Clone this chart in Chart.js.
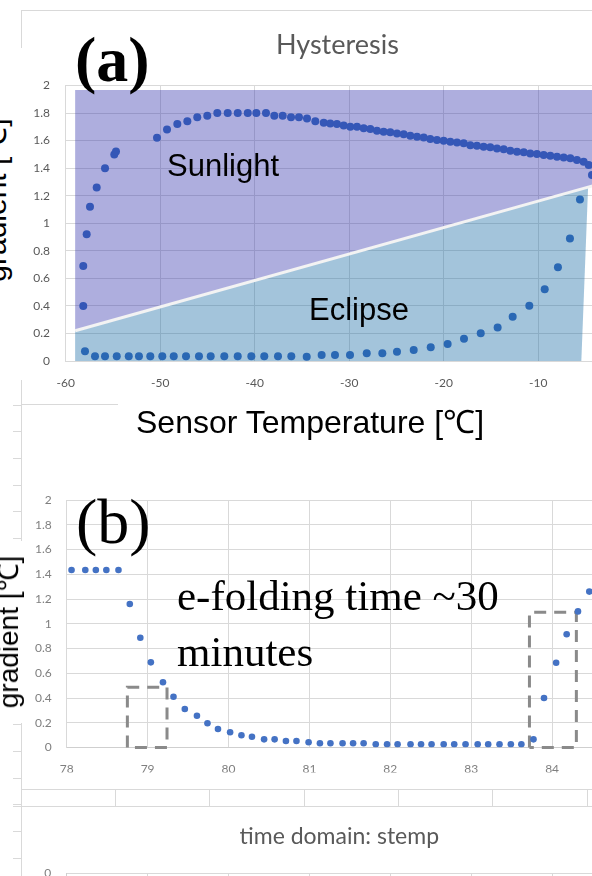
<!DOCTYPE html>
<html lang="en">
<head>
<meta charset="UTF-8" />
<title>Hysteresis</title>
<script src="https://cdn.jsdelivr.net/npm/chart.js"></script>
<style>
  html, body { margin: 0; padding: 0; width: 592px; height: 876px; overflow: hidden; background: #fff; }
  body { position: relative; }
  canvas { position: absolute; left: 0; }
  .abs { position: absolute; white-space: nowrap; color: #000; }
  .serif { font-family: "Liberation Serif", "Times New Roman", serif; line-height: 1; }
  .sans { font-family: "Liberation Sans", Arial, sans-serif; line-height: 1; }
  .ln { position: absolute; background: #d9d9d9; }
  .white { position: absolute; background: #fff; }
  .ytitle { transform: translate(-50%, -50%) rotate(-90deg); }
</style>
</head>
<body>
<canvas id="chartA" width="700" height="400" style="top:0px"></canvas>
<canvas id="chartB" width="700" height="350" style="top:440px"></canvas>
<canvas id="chartC" width="700" height="300" style="top:780px"></canvas>

<!-- frame bits of the pasted charts -->
<div class="ln" style="left:21px;top:10px;width:580px;height:1px"></div>
<div class="ln" style="left:21px;top:10px;width:1px;height:38px"></div>
<div class="ln" style="left:21px;top:380px;width:1px;height:496px"></div>
<div class="abs" style="left:13px;top:378px;width:8px;height:498px;background:repeating-linear-gradient(to bottom,#d9d9d9 0 1px,transparent 1px 26.64px)"></div>
<div class="ln" style="left:21px;top:404px;width:97px;height:1px"></div>
<div class="ln" style="left:21px;top:789px;width:571px;height:1px"></div>
<div class="ln" style="left:13px;top:806px;width:579px;height:1px"></div>
<div class="ln" style="left:115px;top:789px;width:1px;height:17px"></div>
<div class="ln" style="left:209px;top:789px;width:1px;height:17px"></div>
<div class="ln" style="left:304px;top:789px;width:1px;height:17px"></div>
<div class="ln" style="left:398px;top:789px;width:1px;height:17px"></div>
<div class="ln" style="left:492px;top:789px;width:1px;height:17px"></div>
<div class="ln" style="left:587px;top:789px;width:1px;height:17px"></div>

<!-- white boxes behind the axis titles -->
<div class="white" style="left:0;top:48px;width:23px;height:332px"></div>
<div class="white" style="left:0;top:541px;width:27px;height:182px"></div>

<!-- labels -->
<div class="abs serif" style="left:75px;top:28px;font-size:64px;font-weight:bold">(a)</div>
<div class="abs serif" style="left:76px;top:490px;font-size:64px">(b)</div>
<div class="abs sans" style="left:167px;top:150px;font-size:31px">Sunlight</div>
<div class="abs sans" style="left:309px;top:294px;font-size:31px">Eclipse</div>
<div class="abs sans" style="left:136px;top:406px;font-size:32px">Sensor Temperature [℃]</div>
<div class="abs serif" style="left:177px;top:568px;font-size:43px;line-height:56.3px">e-folding time ~30<br>minutes</div>
<div class="abs sans ytitle" style="left:-4px;top:200px;font-size:30px">gradient [℃]</div>
<div class="abs sans ytitle" style="left:9px;top:632px;font-size:28px">gradient [℃]</div>

<script>
  // (a) hysteresis: sensor temperature [C] vs gradient [C]
  const sunTemp = [-58.14, -58.14, -57.78, -57.43, -56.72, -55.84, -54.86, -54.68, -50.34, -49.28,
    -48.19, -47.13, -46.08, -45.02, -43.96, -42.86, -41.80, -40.74, -39.83, -38.81,
    -37.93, -37.04, -36.16, -35.32, -34.47, -33.59, -32.70, -32.01, -31.30, -30.59,
    -29.89, -29.18, -28.47, -27.77, -27.07, -26.36, -25.66, -24.95, -24.24, -23.54,
    -22.83, -22.12, -21.43, -20.72, -20.01, -19.31, -18.60, -17.89, -17.19, -16.49,
    -15.78, -15.08, -14.37, -13.66, -12.96, -12.25, -11.54, -10.85, -10.14, -9.43,
    -8.73, -8.02, -7.31, -6.61, -5.91, -5.20, -4.67, -4.32];
  const sunGrad = [0.40, 0.69, 0.92, 1.12, 1.26, 1.40, 1.50, 1.52, 1.62, 1.68,
    1.72, 1.74, 1.77, 1.78, 1.80, 1.80, 1.80, 1.80, 1.80, 1.80,
    1.78, 1.78, 1.77, 1.77, 1.76, 1.74, 1.73, 1.725, 1.72, 1.71,
    1.70, 1.70, 1.69, 1.684, 1.671, 1.664, 1.66, 1.652, 1.647, 1.635,
    1.628, 1.623, 1.611, 1.604, 1.599, 1.591, 1.587, 1.58, 1.567, 1.562,
    1.555, 1.551, 1.543, 1.538, 1.526, 1.519, 1.515, 1.507, 1.502, 1.495,
    1.49, 1.483, 1.478, 1.471, 1.459, 1.446, 1.422, 1.35];
  const eclTemp = [-57.96, -56.90, -55.84, -54.60, -53.33, -52.25, -51.05, -49.78, -48.57, -47.27,
    -45.90, -44.66, -43.22, -41.80, -40.36, -38.99, -37.54, -36.13, -34.50, -32.92,
    -31.51, -29.92, -28.15, -26.50, -24.95, -23.18, -21.38, -19.59, -17.86, -16.09,
    -14.30, -12.71, -10.95, -9.32, -7.92, -6.65, -5.59];
  const eclGrad = [0.07, 0.034, 0.034, 0.034, 0.034, 0.034, 0.034, 0.034, 0.034, 0.034,
    0.034, 0.034, 0.034, 0.034, 0.034, 0.034, 0.034, 0.034, 0.031, 0.044,
    0.044, 0.044, 0.056, 0.056, 0.067, 0.08, 0.099, 0.123, 0.162, 0.201,
    0.244, 0.321, 0.401, 0.52, 0.68, 0.89, 1.173];

  // shaded regions of panel (a)
  const sunShadeX = [-59.0, -59.0, -3.5, -3.5, -59.0];
  const sunShadeY = [0.22, 1.967, 1.967, 1.286, 0.22];
  const eclShadeX = [-59.0, -59.0, -4.73, -5.47, -59.0];
  const eclShadeY = [-0.044, 0.22, 1.263, -0.044, -0.044];
  const edgeX = [-59.0, -3.5];
  const edgeY = [0.22, 1.286];

  // (b) time domain
  const timeB = [78.06, 78.23, 78.36, 78.49, 78.64, 78.78, 78.91, 79.04, 79.19, 79.32,
    79.46, 79.61, 79.74, 79.87, 80.02, 80.16, 80.29, 80.44, 80.57, 80.71,
    80.84, 80.99, 81.13, 81.26, 81.41, 81.54, 81.67, 81.82, 81.96, 82.09,
    82.25, 82.38, 82.51, 82.66, 82.79, 82.93, 83.08, 83.21, 83.35, 83.49,
    83.62, 83.77, 83.90, 84.05, 84.18, 84.32, 84.46];
  const gradB = [1.434, 1.434, 1.434, 1.434, 1.434, 1.16, 0.887, 0.688, 0.527, 0.41,
    0.311, 0.257, 0.196, 0.15, 0.123, 0.099, 0.087, 0.066, 0.066, 0.053,
    0.053, 0.042, 0.034, 0.034, 0.034, 0.034, 0.034, 0.026, 0.026, 0.026,
    0.026, 0.026, 0.026, 0.026, 0.026, 0.026, 0.026, 0.026, 0.026, 0.026,
    0.026, 0.066, 0.40, 0.685, 0.915, 1.10, 1.26];
  const box1X = [78.75, 78.75, 79.24, 79.24, 78.75];
  const box1Y = [0, 0.486, 0.486, 0, 0];
  const box2X = [83.72, 83.72, 84.30, 84.30, 83.72];
  const box2Y = [0, 1.093, 1.093, 0, 0];

  function pts(xs, ys) {
    return xs.map((x, i) => ({ x: x, y: ys[i] }));
  }

  const none = 'rgba(0,0,0,0)';
  const tickFont = { family: 'Lato', size: 12 };
  const fmt = (v) => String(Math.round(v * 10) / 10);

  function noPad(s) {
    s.paddingLeft = 0; s.paddingRight = 0; s.paddingTop = 0; s.paddingBottom = 0;
  }

  // empty right-hand axis, only there to move the title's centre
  function spacer(w) {
    return {
      position: 'right', display: true, min: 0, max: 1,
      grid: { display: false }, ticks: { display: false }, border: { display: false },
      afterFit: (s) => { s.width = w; noPad(s); }
    };
  }

  function dots(xs, ys, color, r) {
    return { data: pts(xs, ys), showLine: false, pointRadius: r, pointHoverRadius: r,
      pointBackgroundColor: color, pointBorderColor: color, pointBorderWidth: 0,
      borderColor: none, order: 0 };
  }

  function shape(xs, ys, color, order) {
    return { data: pts(xs, ys), fill: 'shape', backgroundColor: color, borderColor: none,
      borderWidth: 0, pointRadius: 0, clip: false, order: order };
  }

  new Chart(document.getElementById('chartA'), {
    type: 'line',
    data: {
      datasets: [
        dots(sunTemp, sunGrad, '#3557b7', 4),
        dots(eclTemp, eclGrad, '#2a68b4', 4),
        { data: pts(edgeX, edgeY), borderColor: '#f3f3f3', borderWidth: 3, pointRadius: 0, clip: false, order: 1 },
        shape(eclShadeX, eclShadeY, 'rgba(25,107,165,0.4)', 2),
        shape(sunShadeX, sunShadeY, 'rgba(52,52,172,0.4)', 3)
      ]
    },
    options: {
      responsive: false,
      animation: false,
      devicePixelRatio: 1,
      layout: { padding: { left: 0, right: 25.2, top: 0, bottom: 9 } },
      plugins: {
        legend: { display: false },
        tooltip: { enabled: false },
        title: {
          display: true, text: 'Hysteresis', color: '#595959',
          font: { family: 'Lato', size: 27, weight: 'normal' },
          padding: { top: 29, bottom: 24.1 }
        }
      },
      scales: {
        x: {
          type: 'linear', min: -60, max: 0,
          ticks: { stepSize: 10, color: '#595959', font: tickFont, padding: 14.8, maxRotation: 0 },
          grid: { color: '#d9d9d9', drawTicks: false },
          border: { color: '#d9d9d9' },
          afterFit: (s) => { s.height = 30; noPad(s); }
        },
        y: {
          min: 0, max: 2,
          ticks: { stepSize: 0.2, color: '#595959', font: tickFont, padding: 15.7, callback: fmt },
          grid: { color: '#d9d9d9', drawTicks: false },
          border: { color: '#d9d9d9' },
          afterFit: (s) => { s.width = 65.7; noPad(s); }
        },
        y2: spacer(42)
      }
    }
  });

  new Chart(document.getElementById('chartB'), {
    type: 'line',
    data: {
      datasets: [
        dots(timeB, gradB, '#4472c4', 3.3),
        { data: pts(box1X, box1Y), borderColor: '#8a8a8a', borderWidth: 3, borderDash: [12, 8], pointRadius: 0, clip: false, order: 1 },
        { data: pts(box2X, box2Y), borderColor: '#8a8a8a', borderWidth: 3, borderDash: [12, 8], pointRadius: 0, clip: false, order: 1 }
      ]
    },
    options: {
      responsive: false,
      animation: false,
      devicePixelRatio: 1,
      layout: { padding: { left: 0, right: 67, top: 60, bottom: 17.5 } },
      plugins: { legend: { display: false }, tooltip: { enabled: false } },
      scales: {
        x: {
          type: 'linear', min: 78, max: 85,
          ticks: { stepSize: 1, color: '#7f7f7f', font: tickFont, padding: 14, maxRotation: 0 },
          grid: { color: '#d9d9d9', drawTicks: false },
          border: { color: '#cfcfcf' },
          afterFit: (s) => { s.height = 25; noPad(s); }
        },
        y: {
          min: 0, max: 2,
          ticks: { stepSize: 0.2, color: '#7f7f7f', font: tickFont, padding: 15, callback: fmt },
          grid: { color: '#d9d9d9', drawTicks: false },
          border: { color: '#d9d9d9' },
          afterFit: (s) => { s.width = 66.7; noPad(s); }
        }
      }
    }
  });

  new Chart(document.getElementById('chartC'), {
    type: 'line',
    data: { datasets: [] },
    options: {
      responsive: false,
      animation: false,
      devicePixelRatio: 1,
      layout: { padding: { left: 0, right: 21.4, top: 0, bottom: 20 } },
      plugins: {
        legend: { display: false },
        tooltip: { enabled: false },
        title: {
          display: true, text: 'time domain: stemp', color: '#595959',
          font: { family: 'Lato', size: 23, weight: 'normal' },
          padding: { top: 42.6, bottom: 23.1 }
        }
      },
      scales: {
        x: {
          type: 'linear', min: 78, max: 85,
          ticks: { display: false, stepSize: 1 },
          grid: { color: '#d9d9d9', drawTicks: false },
          border: { color: '#d9d9d9' },
          afterFit: (s) => { s.height = 0; noPad(s); }
        },
        y: {
          min: -1, max: 0,
          ticks: { stepSize: 0.2, color: '#7f7f7f', font: tickFont, padding: 15.4, callback: fmt },
          grid: { color: '#d9d9d9', drawTicks: false },
          border: { color: '#cfcfcf' },
          afterFit: (s) => { s.width = 66.7; noPad(s); }
        },
        y2: spacer(45.6)
      }
    }
  });
</script>
</body>
</html>
